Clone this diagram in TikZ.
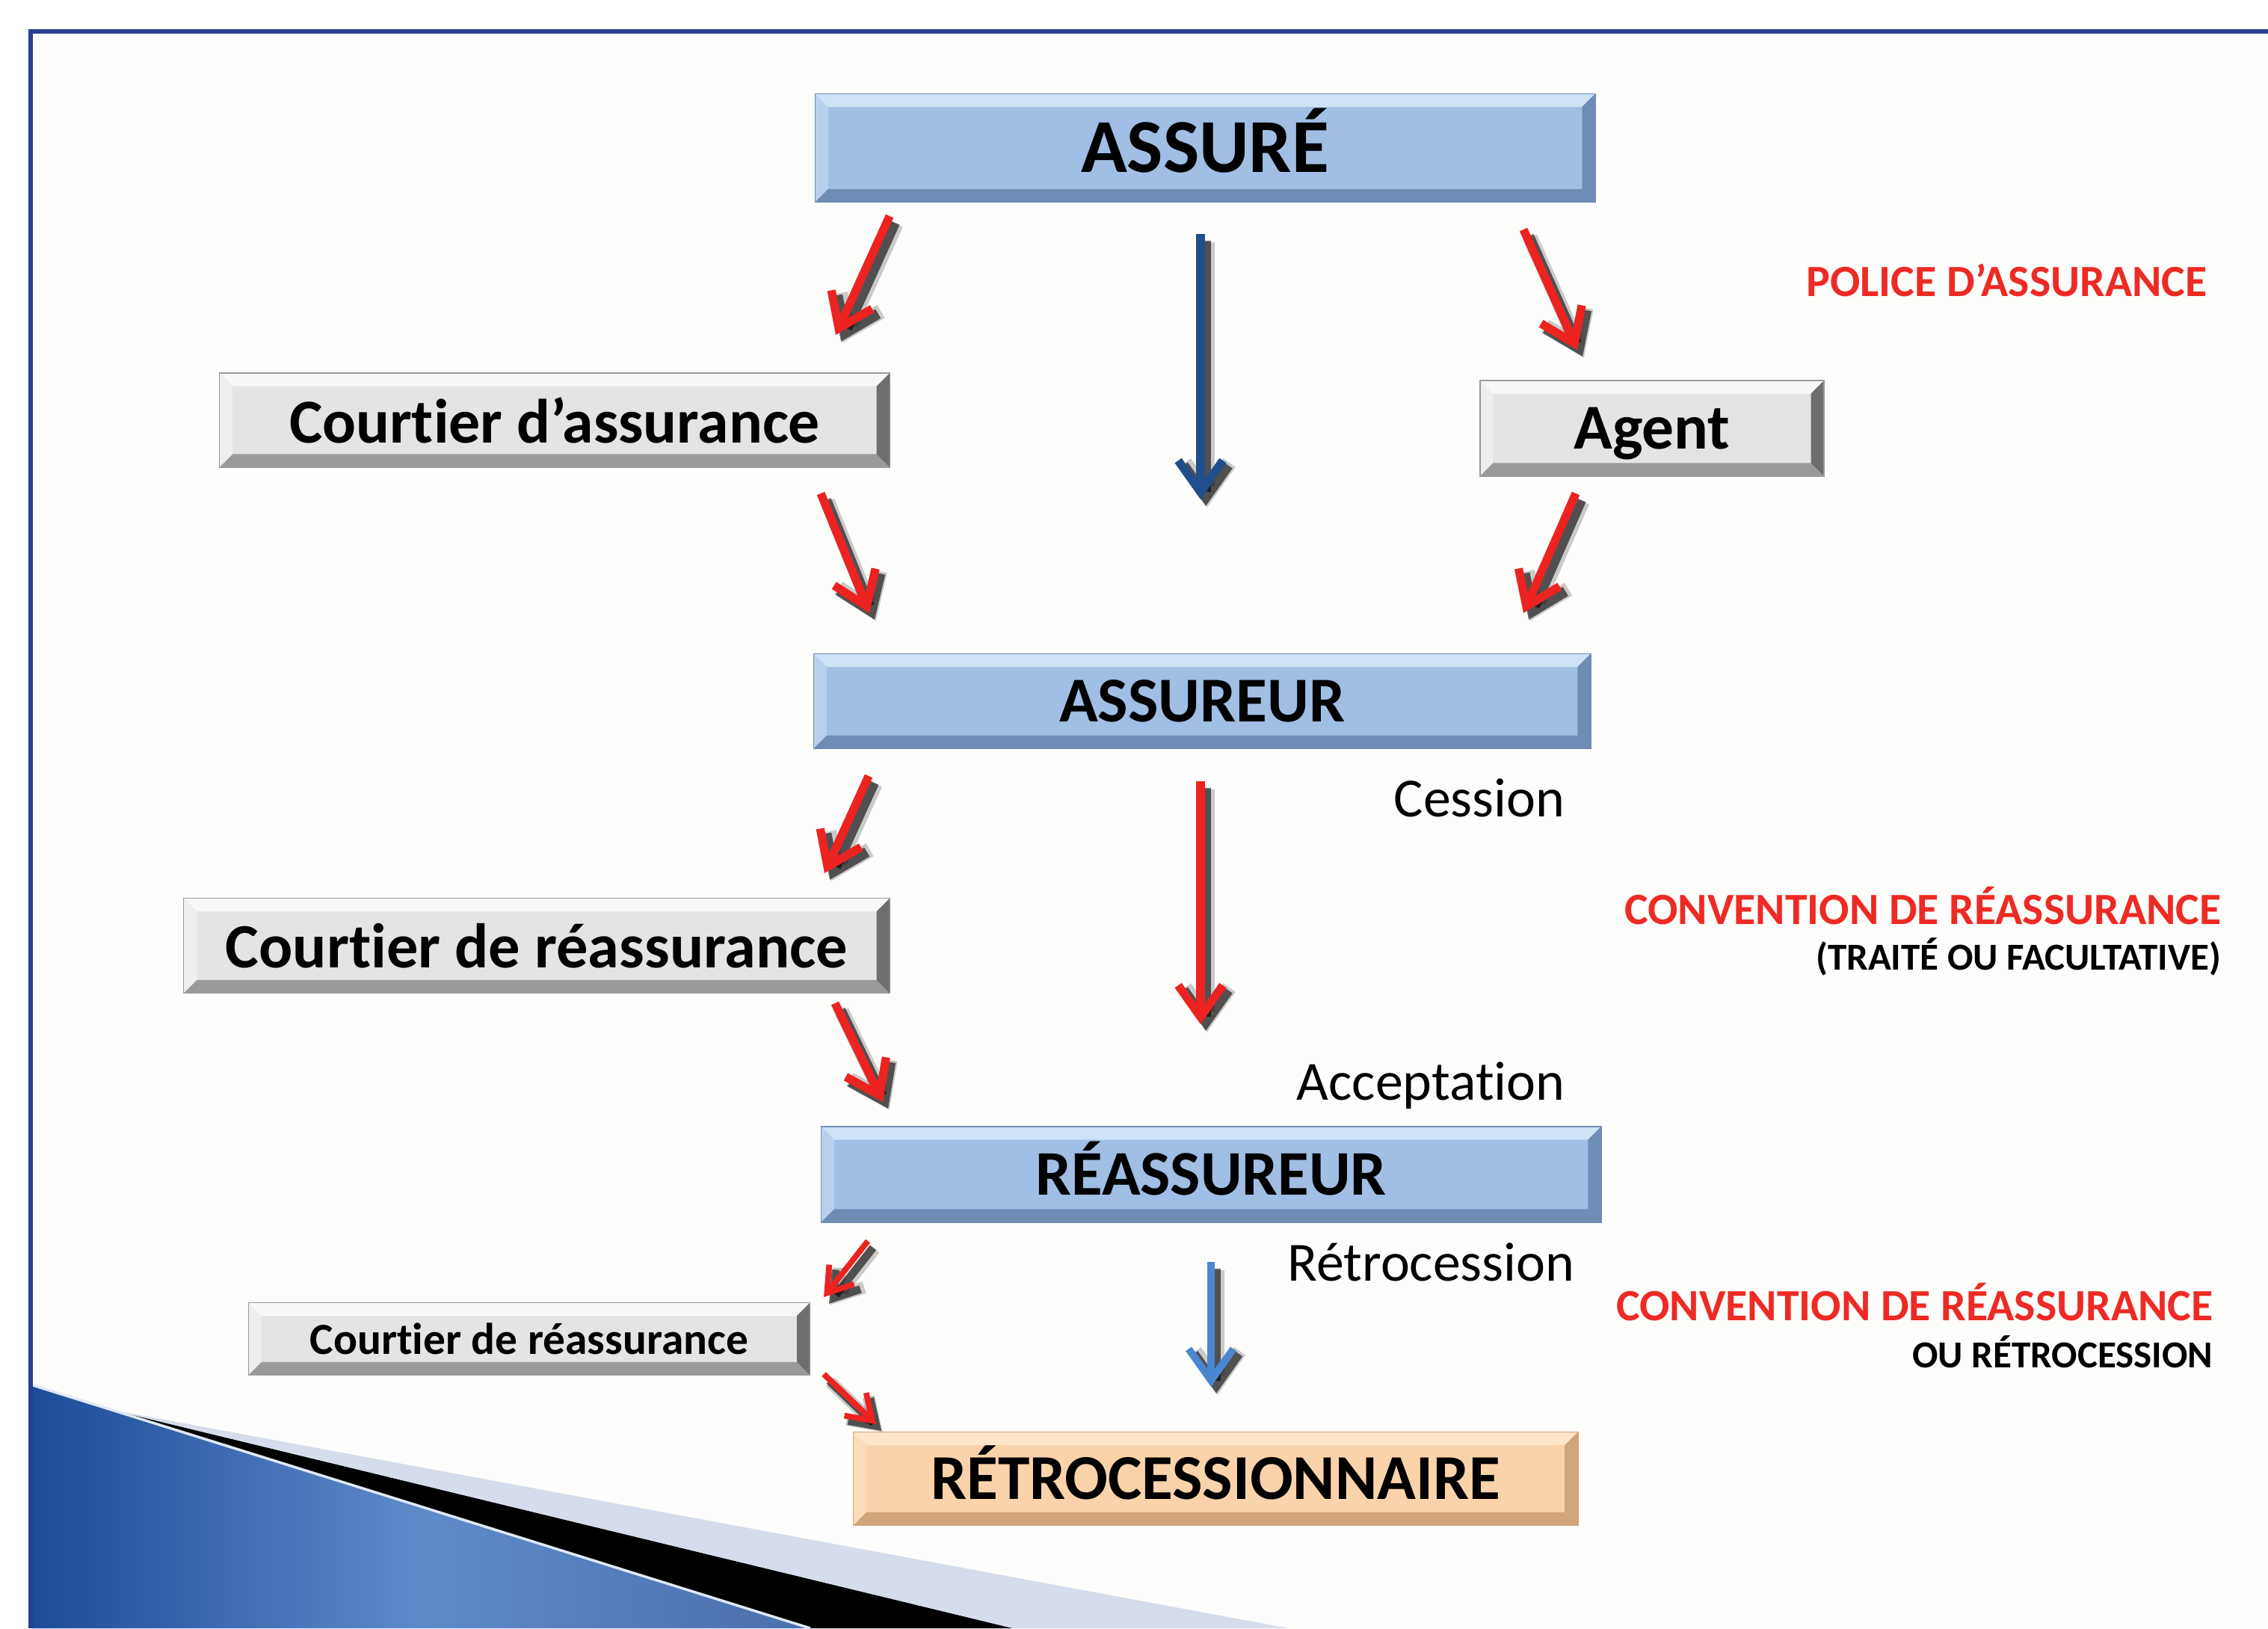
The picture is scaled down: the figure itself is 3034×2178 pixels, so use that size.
\documentclass[tikz,border=0pt]{standalone}
\usepackage{fontspec}
\setmainfont{Carlito}[Ligatures=NoCommon]
\usetikzlibrary{arrows.meta}
\definecolor{frameblue}{HTML}{2B3F8E}
\definecolor{bgwhite}{HTML}{FDFDFB}
\definecolor{arrred}{HTML}{EC2320}
\definecolor{arrblue}{HTML}{1F4E8A}
\definecolor{arrlblue}{HTML}{4B87D0}
\definecolor{labred}{HTML}{EE2A24}
\definecolor{boxblue}{HTML}{A1BEE4}
\definecolor{bluehi}{HTML}{CFE2F6}
\definecolor{bluelo}{HTML}{6F8CB4}
\definecolor{boxgrey}{HTML}{E4E4E4}
\definecolor{greyhi}{HTML}{F8F8F8}
\definecolor{greylo}{HTML}{9A9A9A}
\definecolor{greyedge}{HTML}{6E6E6E}
\definecolor{boxorange}{HTML}{FBD3AA}
\definecolor{orangehi}{HTML}{FFE6C8}
\definecolor{orangelo}{HTML}{D2A47A}
\definecolor{swdark}{HTML}{1D4C98}
\definecolor{swmid}{HTML}{5F8BCB}
\definecolor{swband}{HTML}{D5DCEB}

\tikzset{
  bevel/.style n args={4}{fill=#1, draw=#3, line width=.4pt, inner sep=0pt,
    path picture={
      \coordinate (nw) at (path picture bounding box.north west);
      \coordinate (ne) at (path picture bounding box.north east);
      \coordinate (sw) at (path picture bounding box.south west);
      \coordinate (se) at (path picture bounding box.south east);
      \fill[#2] (nw) -- (ne) -- ([xshift=-5pt,yshift=-5pt]ne) -- ([xshift=5pt,yshift=-5pt]nw) -- cycle;
      \fill[#2!50!#1] (nw) -- ([xshift=5pt,yshift=-5pt]nw) -- ([xshift=5pt,yshift=5pt]sw) -- (sw) -- cycle;
      \fill[#3] (sw) -- (se) -- ([xshift=-5pt,yshift=5pt]se) -- ([xshift=5pt,yshift=5pt]sw) -- cycle;
      \fill[#4] (ne) -- (se) -- ([xshift=-5pt,yshift=5pt]se) -- ([xshift=-5pt,yshift=-5pt]ne) -- cycle;
    }},
  bluebox/.style={bevel={boxblue}{bluehi}{bluelo}{bluelo}},
  greybox/.style={bevel={boxgrey}{greyhi}{greylo}{greyedge}},
  orangebox/.style={bevel={boxorange}{orangehi}{orangelo}{orangelo}},
  shadow/.style={preaction={draw=black, opacity=.2, line width=#1+2.5pt, transform canvas={xshift=2.5pt,yshift=-3pt}},
    preaction={draw=black, opacity=.6, line width=#1+.8pt, transform canvas={xshift=2pt,yshift=-2.5pt}},
    line width=#1},
  redarr/.style={shadow=3.2pt, draw=arrred, -{Straight Barb[length=12pt,width=17pt]}},
  smallarr/.style={shadow=2.2pt, draw=arrred, -{Straight Barb[length=9pt,width=12pt]}},
  lab/.style={anchor=base east, inner sep=0pt},
}

\begin{document}
\begin{tikzpicture}[x=0.01cm,y=-0.01cm]
\useasboundingbox (0,0) rectangle (3034,2178);
\fill[white] (0,0) rectangle (3034,2178);
\fill[bgwhite] (41,42) rectangle (3034,2178);

% bottom left swoosh
\shade[left color=swdark, right color=swdark!80, middle color=swmid] (41,1852) -- (1084,2178) -- (41,2178) -- cycle;
\fill[black] (150,1886) -- (1355,2178) -- (1084,2178) -- cycle;
\fill[swband] (150,1886) -- (1724,2178) -- (1355,2178) -- cycle;
\draw[white!80!swmid, line width=1pt] (41,1852) -- (1084,2178);

\draw[frameblue, line width=1.7pt] (41,2178) -- (41,42) -- (3034,42);

\node[bluebox, minimum width=10.43cm, minimum height=1.45cm, text height=18.7pt, text depth=0pt, font=\fontsize{29}{31}\selectfont\bfseries] (assure) at (1612,198) {ASSURÉ};
\node[greybox, minimum width=8.96cm, minimum height=1.26cm, font=\fontsize{23.8}{26}\selectfont\bfseries] (courtA) at (742,562) {Courtier d’assurance};
\node[greybox, minimum width=4.60cm, minimum height=1.28cm, text depth=0pt, font=\fontsize{24.3}{26}\selectfont\bfseries] (agent) at (2210,573) {Agent};
\node[bluebox, minimum width=10.39cm, minimum height=1.27cm, font=\fontsize{24.3}{26}\selectfont\bfseries] (assureur) at (1608,938) {ASSUREUR};
\node[greybox, minimum width=9.44cm, minimum height=1.27cm, font=\fontsize{24}{26}\selectfont\bfseries] (courtR) at (718,1265) {Courtier de réassurance};
\node[bluebox, minimum width=10.43cm, minimum height=1.28cm, text height=15.6pt, text depth=0pt, font=\fontsize{24.2}{26}\selectfont\bfseries] (reassureur) at (1620,1571) {RÉASSUREUR};
\node[greybox, minimum width=7.51cm, minimum height=0.97cm, font=\fontsize{16.9}{18}\selectfont\bfseries] (courtRs) at (708,1791) {Courtier de réassurance};
\node[orangebox, minimum width=9.69cm, minimum height=1.25cm, text height=15.6pt, text depth=0pt, font=\fontsize{24.3}{26}\selectfont\bfseries] (retro) at (1626,1978) {RÉTROCESSIONNAIRE};

\coordinate (a1) at (1190,289);  \coordinate (b1) at (1118,448);
\coordinate (a2) at (2038,307);  \coordinate (b2) at (2110,468);
\coordinate (a3) at (1098,660);  \coordinate (b3) at (1163,820);
\coordinate (a4) at (2108,660);  \coordinate (b4) at (2038,820);
\coordinate (a5) at (1162,1038); \coordinate (b5) at (1103,1168);
\coordinate (a6) at (1117,1342); \coordinate (b6) at (1181,1474);
\coordinate (a7) at (1161,1660); \coordinate (b7) at (1102,1735);
\coordinate (a8) at (1102,1838); \coordinate (b8) at (1172,1905);
\coordinate (c1) at (1606,313);  \coordinate (d1) at (1606,668);
\coordinate (c2) at (1606,1045); \coordinate (d2) at (1606,1370);
\coordinate (c3) at (1620,1688); \coordinate (d3) at (1620,1855);

\foreach \i in {1,...,6}
{	\draw[redarr] (a\i) -- (b\i);
}
\foreach \i in {7,8}
{	\draw[smallarr] (a\i) -- (b\i);
}
\draw[redarr, draw=arrblue] (c1) -- (d1);
\draw[redarr] (c2) -- (d2);
\draw[shadow=2.8pt, draw=arrlblue, -{Straight Barb[length=12pt,width=17pt]}] (c3) -- (d3);

\node[lab, text=labred, font=\fontsize{17}{19}\selectfont\bfseries] (police) at (2953,396) {POLICE D’ASSURANCE};
\node[lab, font=\fontsize{21}{23}\selectfont] (cession) at (2094,1092) {Cession};
\node[lab, text=labred, font=\fontsize{17}{19}\selectfont\bfseries] (conv1) at (2972,1236) {CONVENTION DE RÉASSURANCE};
\node[lab, font=\fontsize{14.5}{16}\selectfont\bfseries] (traite) at (2972,1297) {(TRAITÉ OU FACULTATIVE)};
\node[lab, font=\fontsize{21}{23}\selectfont] (accept) at (2094,1471) {Acceptation};
\node[lab, font=\fontsize{21}{23}\selectfont] (retroc) at (2107,1713) {Rétrocession};
\node[lab, text=labred, font=\fontsize{17}{19}\selectfont\bfseries] (conv2) at (2961,1766) {CONVENTION DE RÉASSURANCE};
\node[lab, font=\fontsize{14.5}{16}\selectfont\bfseries] (ouretro) at (2961,1829) {OU RÉTROCESSION};
\end{tikzpicture}
\end{document}
